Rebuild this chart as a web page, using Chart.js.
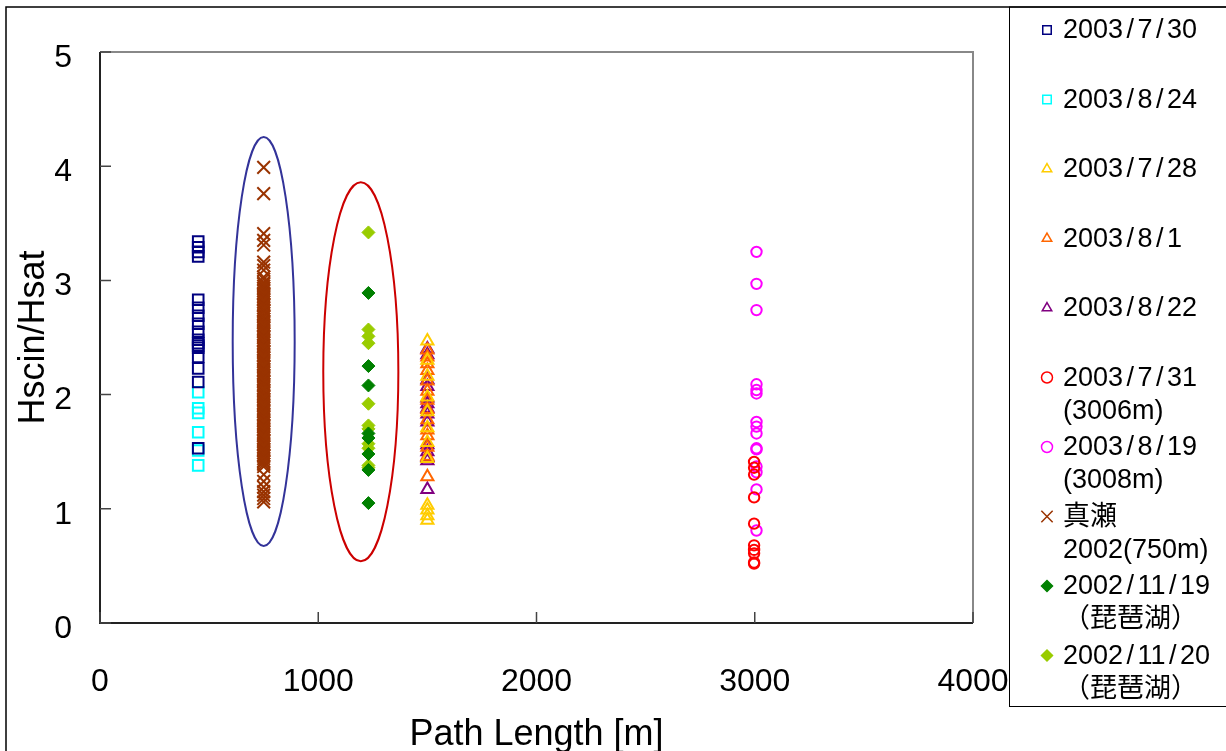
<!DOCTYPE html>
<html>
<head>
<meta charset="utf-8">
<script src="https://cdn.jsdelivr.net/npm/chart.js@4.4.0/dist/chart.umd.min.js"></script>
<style>
  html, body { margin: 0; padding: 0; background: #fff; }
  #wrap { width: 1226px; height: 751px; }
</style>
</head>
<body>
<div id="wrap"><canvas id="chart" width="1226" height="751"></canvas></div>
<script>
// Path length groups (x) and Hscin/Hsat values (y)
const xTicks = [0, 1000, 2000, 3000, 4000];
const yTicks = [0, 1, 2, 3, 4, 5];

const x0730 = 450;
const y0730 = [3.34, 3.29, 3.25, 3.21, 2.83, 2.76, 2.69, 2.62, 2.55, 2.48, 2.45, 2.43, 2.41, 2.33, 2.23, 2.11, 1.53];
const x0824 = 450;
const y0824 = [2.02, 1.88, 1.84, 1.67, 1.51, 1.38];

const x0728 = 1500;
const y0728 = [2.47, 2.30, 2.16, 1.98, 1.85, 1.71, 1.58, 1.44, 1.03, 0.99, 0.94, 0.90];
const x0801 = 1500;
const y0801 = [2.39, 2.33, 2.27, 2.21, 2.12, 2.03, 1.95, 1.87, 1.78, 1.69, 1.64, 1.54, 1.46, 1.28];
const x0822 = 1500;
const y0822 = [2.40, 2.35, 2.13, 2.07, 1.97, 1.92, 1.88, 1.83, 1.76, 1.56, 1.50, 1.45, 1.42, 1.17];

const x0731 = 2997;
const y0731 = [1.41, 1.36, 1.30, 1.10, 0.87, 0.68, 0.64, 0.61, 0.53, 0.52];
const x0819 = 3008;
const y0819 = [3.25, 2.97, 2.74, 2.09, 2.04, 2.01, 1.76, 1.72, 1.66, 1.53, 1.52, 1.37, 1.32, 1.17, 0.81];

const xMase = 750;
const yMase = [3.99, 3.76, 3.41, 3.35, 3.31, 3.16, 3.13, 3.09, 3.03, 3.01, 2.98, 2.97, 2.95, 2.93,
  2.91, 2.89, 2.88, 2.86, 2.84, 2.83, 2.81, 2.79, 2.78, 2.76, 2.74, 2.73, 2.71, 2.69, 2.68, 2.66,
  2.64, 2.63, 2.61, 2.60, 2.58, 2.56, 2.55, 2.53, 2.51, 2.50, 2.48, 2.47, 2.45, 2.43, 2.42, 2.40,
  2.38, 2.37, 2.35, 2.34, 2.32, 2.30, 2.29, 2.27, 2.25, 2.24, 2.22, 2.21, 2.19, 2.17, 2.16, 2.14,
  2.12, 2.11, 2.09, 2.08, 2.06, 2.04, 2.03, 2.01, 1.99, 1.98, 1.96, 1.95, 1.93, 1.91, 1.90, 1.88,
  1.86, 1.85, 1.83, 1.82, 1.80, 1.78, 1.77, 1.75, 1.73, 1.72, 1.70, 1.69, 1.67, 1.65, 1.64, 1.62,
  1.60, 1.59, 1.57, 1.56, 1.54, 1.52, 1.51, 1.49, 1.47, 1.46, 1.44, 1.42, 1.41, 1.39, 1.37,
  1.30, 1.24, 1.19, 1.15, 1.12, 1.09, 1.06];

const x1119 = 1230;
const y1119 = [2.89, 2.25, 2.08, 1.66, 1.62, 1.48, 1.34, 1.05];
const x1120 = 1230;
const y1120 = [3.42, 2.57, 2.51, 2.45, 1.92, 1.73, 1.70, 1.57, 1.53, 1.38, 1.36];

// ellipses marking the two groups, in data units: [cx, cy, rx, ry]
const ellipseBlue = [750, 2.465, 142, 1.79];
const ellipseRed = [1195, 2.20, 172, 1.66];

const FONT = "'Liberation Sans', Arial, 'Noto Sans CJK JP', sans-serif";

function pts(x, ys) {
  return ys.map(v => ({ x: x, y: v }));
}

function series(label, x, ys, color, style, radius, filled, bw) {
  return {
    label: label,
    data: pts(x, ys),
    pointStyle: style,
    pointRadius: radius,
    pointBorderColor: color,
    pointBackgroundColor: filled ? color : "rgba(0,0,0,0)",
    pointBorderWidth: bw,
    borderColor: color,
    backgroundColor: filled ? color : "rgba(0,0,0,0)",
    showLine: false
  };
}

const datasets = [
  series("2003/7/30", x0730, y0730, "#000080", "rect", 7.5, false, 2),
  series("2003/8/24", x0824, y0824, "#00FFFF", "rect", 7.5, false, 2),
  series("2003/7/28", x0728, y0728, "#FFCC00", "triangle", 7, false, 2),
  series("2003/8/1", x0801, y0801, "#FF6600", "triangle", 7, false, 2),
  series("2003/8/22", x0822, y0822, "#800080", "triangle", 7, false, 2),
  series("2003/7/31\n(3006m)", x0731, y0731, "#FF0000", "circle", 5.2, false, 2),
  series("2003/8/19\n(3008m)", x0819, y0819, "#FF00FF", "circle", 5.2, false, 2),
  series("真瀬\n2002(750m)", xMase, yMase, "#993300", "crossRot", 9, false, 2),
  series("2002/11/19\n（琵琶湖）", x1119, y1119, "#008000", "rectRot", 6.5, true, 1),
  series("2002/11/20\n（琵琶湖）", x1120, y1120, "#99CC00", "rectRot", 6.5, true, 1)
];

// text with the wide slashes of the original font
function wideText(ctx, text, x, y, pad) {
  const parts = text.split("/");
  let cx = x;
  parts.forEach((p, i) => {
    ctx.fillText(p, cx, y);
    cx += ctx.measureText(p).width;
    if (i < parts.length - 1) {
      cx += pad;
      ctx.fillText("/", cx, y);
      cx += ctx.measureText("/").width + pad;
    }
  });
}

// frames, inward ticks, ellipses and the side legend
const decor = {
  id: "decor",
  beforeDraw(chart) {
    const ctx = chart.ctx;
    ctx.save();
    ctx.fillStyle = "#fff";
    ctx.fillRect(0, 0, chart.width, chart.height);
    ctx.strokeStyle = "#000";
    ctx.lineWidth = 1.5;
    ctx.strokeRect(6, 7, 1240, 760);
    ctx.lineWidth = 1;
    ctx.strokeRect(1009.5, 7, 240, 699.5);
    ctx.restore();
  },
  beforeDatasetsDraw(chart) {
    const ctx = chart.ctx;
    const a = chart.chartArea;
    const xs = chart.scales.x, ys = chart.scales.y;
    ctx.save();
    ctx.lineWidth = 2;
    ctx.strokeStyle = "#888";
    ctx.beginPath();
    ctx.moveTo(a.left, a.top);
    ctx.lineTo(a.right, a.top);
    ctx.lineTo(a.right, a.bottom);
    ctx.stroke();
    ctx.strokeStyle = "#222";
    ctx.beginPath();
    ctx.moveTo(a.left, a.top);
    ctx.lineTo(a.left, a.bottom);
    ctx.lineTo(a.right, a.bottom);
    ctx.stroke();
    ctx.lineWidth = 1.5;
    ctx.strokeStyle = "#444";
    ctx.beginPath();
    xs.ticks.forEach(t => {
      const px = xs.getPixelForValue(t.value);
      ctx.moveTo(px, a.bottom);
      ctx.lineTo(px, a.bottom - 11);
    });
    ys.ticks.forEach(t => {
      const py = ys.getPixelForValue(t.value);
      ctx.moveTo(a.left, py);
      ctx.lineTo(a.left + 11, py);
    });
    ctx.stroke();
    ctx.restore();
  },
  afterDatasetsDraw(chart) {
    const ctx = chart.ctx;
    const xs = chart.scales.x, ys = chart.scales.y;
    const draw = (e, color) => {
      const cx = xs.getPixelForValue(e[0]);
      const cy = ys.getPixelForValue(e[1]);
      const rx = Math.abs(xs.getPixelForValue(e[0] + e[2]) - cx);
      const ry = Math.abs(ys.getPixelForValue(e[1] + e[3]) - cy);
      ctx.beginPath();
      ctx.ellipse(cx, cy, rx, ry, 0, 0, Math.PI * 2);
      ctx.strokeStyle = color;
      ctx.lineWidth = 2;
      ctx.stroke();
    };
    ctx.save();
    draw(ellipseBlue, "#333399");
    draw(ellipseRed, "#CC0000");
    ctx.restore();
  },
  afterDraw(chart) {
    const ctx = chart.ctx;
    ctx.save();
    ctx.font = "27px " + FONT;
    ctx.textBaseline = "middle";
    ctx.textAlign = "left";
    chart.data.datasets.forEach((ds, i) => {
      const y = 30 + i * 69.5;
      const style = {
        pointStyle: ds.pointStyle,
        rotation: 0,
        radius: ds.pointStyle === "crossRot" ? 8 : (ds.pointStyle === "rect" ? 6 : 5.5),
        borderWidth: 1.5
      };
      ctx.strokeStyle = ds.pointBorderColor;
      ctx.fillStyle = ds.pointBackgroundColor;
      ctx.lineWidth = style.borderWidth;
      Chart.helpers.drawPoint(ctx, style, 1047, y);
      ctx.fillStyle = "#000";
      ds.label.split("\n").forEach((line, k) => {
        wideText(ctx, line, 1063, y + 1 + k * 33, 3.5);
      });
    });
    ctx.restore();
  }
};

new Chart(document.getElementById("chart"), {
  type: "scatter",
  data: { datasets: datasets },
  options: {
    responsive: false,
    animation: false,
    layout: { padding: { left: 0, top: 52, right: 253, bottom: 0 } },
    plugins: {
      legend: { display: false },
      tooltip: { enabled: false }
    },
    scales: {
      x: {
        type: "linear",
        min: xTicks[0],
        max: xTicks[xTicks.length - 1],
        afterBuildTicks: s => { s.ticks = xTicks.map(v => ({ value: v })); },
        afterFit: s => { s.height = 128; },
        grid: { display: false, drawTicks: false },
        border: { display: false },
        ticks: {
          color: "#000", padding: 40, font: { family: FONT, size: 32 },
          callback: v => String(v)
        },
        title: {
          display: true,
          text: "Path Length [m]",
          color: "#000",
          padding: { top: 0, bottom: -6 },
          font: { family: FONT, size: 36 }
        }
      },
      y: {
        type: "linear",
        min: yTicks[0],
        max: yTicks[yTicks.length - 1],
        afterBuildTicks: s => { s.ticks = yTicks.map(v => ({ value: v })); },
        afterFit: s => { s.width = 100; },
        grid: { display: false, drawTicks: false },
        border: { display: false },
        ticks: {
          color: "#000", padding: 28, labelOffset: 6, font: { family: FONT, size: 32 },
          callback: v => String(v)
        },
        title: {
          display: true,
          text: "Hscin/Hsat",
          color: "#000",
          padding: { top: 12, bottom: 0 },
          font: { family: FONT, size: 36 }
        }
      }
    }
  },
  plugins: [decor]
});
</script>
</body>
</html>
